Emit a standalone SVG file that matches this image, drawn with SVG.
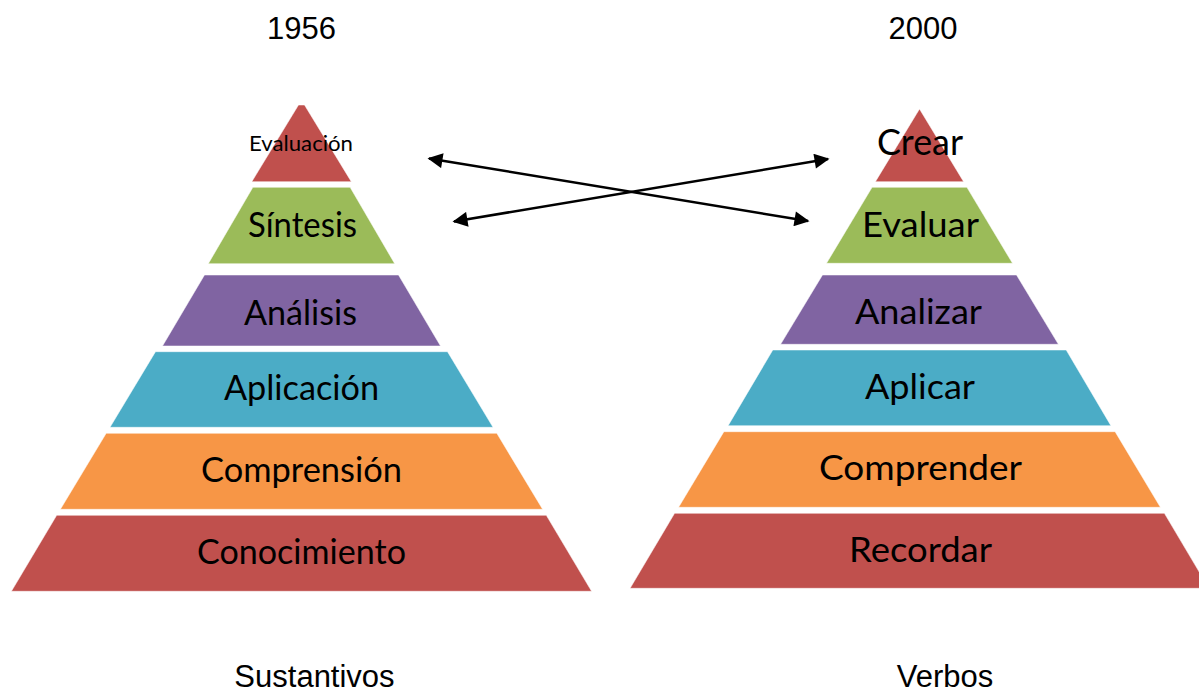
<svg xmlns="http://www.w3.org/2000/svg" width="1199" height="692" viewBox="0 0 1199 692">
<style>
.red{fill:#C0504D}.green{fill:#9BBB59}.purple{fill:#8064A2}.blue{fill:#4BACC6}.orange{fill:#F79646}
.tier{stroke:#ffffff;stroke-opacity:0.5;stroke-width:1}
.lbl{font-family:Lato,"Liberation Sans",sans-serif;font-size:34px;fill:#000;text-anchor:middle}
.cap{font-family:"Liberation Sans",Arial,sans-serif;font-size:31px;fill:#000;text-anchor:middle}
.arr{stroke:#000;stroke-width:2.5;fill:none}
</style>
<defs>
<marker id="ah" viewBox="0 0 10 10" refX="9" refY="5" markerWidth="6.5" markerHeight="6" markerUnits="strokeWidth" orient="auto-start-reverse">
<path d="M0,0 L10,5 L0,10 Z" fill="#000"/>
</marker>
</defs>
<rect width="1199" height="692" fill="#fff"/>
<text class="cap" x="301.5" y="39">1956</text>
<text class="cap" x="923" y="39">2000</text>
<text class="cap" x="314.5" y="687">Sustantivos</text>
<text class="cap" x="945" y="687">Verbos</text>
<g id="left-pyramid">
<g id="l1"><polygon class="tier red" points="298.5,105 304.5,105 351.3,181.7 251.8,181.7"/><text class="lbl" x="301" y="151" style="font-size:22px" textLength="104" lengthAdjust="spacingAndGlyphs">Evaluación</text></g>
<g id="l2"><polygon class="tier green" points="252.9,187.3 350.1,187.3 394.7,263.7 208.3,263.7"/><text class="lbl" x="302.5" y="237" textLength="109" lengthAdjust="spacingAndGlyphs">Síntesis</text></g>
<g id="l3"><polygon class="tier purple" points="204.5,275 398.5,275 440.5,346 162.5,346"/><text class="lbl" x="300.5" y="325" textLength="113" lengthAdjust="spacingAndGlyphs">Análisis</text></g>
<g id="l4"><polygon class="tier blue" points="155.5,351.7 447.5,351.7 493,427.3 110,427.3"/><text class="lbl" x="301.5" y="399.5" textLength="155" lengthAdjust="spacingAndGlyphs">Aplicación</text></g>
<g id="l5"><polygon class="tier orange" points="106.2,433.3 496.8,433.3 542.6,509.3 60.4,509.3"/><text class="lbl" x="301.5" y="482" textLength="201" lengthAdjust="spacingAndGlyphs">Comprensión</text></g>
<g id="l6"><polygon class="tier red" points="56.7,515.3 546.3,515.3 591.6,591.3 11.4,591.3"/><text class="lbl" x="301.5" y="563.5" textLength="209" lengthAdjust="spacingAndGlyphs">Conocimiento</text></g>
</g>
<g id="right-pyramid">
<g id="r1"><polygon class="tier red" points="919.5,109 963.6,181.7 875.4,181.7"/><text class="lbl" x="920" y="155" style="font-size:37px" textLength="86" lengthAdjust="spacingAndGlyphs">Crear</text></g>
<g id="r2"><polygon class="tier green" points="872.1,187.3 966.9,187.3 1012.5,263.3 826.5,263.3"/><text class="lbl" x="920.5" y="237" textLength="117" lengthAdjust="spacingAndGlyphs">Evaluar</text></g>
<g id="r3"><polygon class="tier purple" points="822.5,275 1016.5,275 1058.4,344.3 780.6,344.3"/><text class="lbl" x="918.5" y="323.5" textLength="127" lengthAdjust="spacingAndGlyphs">Analizar</text></g>
<g id="r4"><polygon class="tier blue" points="772.8,350 1066.2,350 1110.9,425.7 728.1,425.7"/><text class="lbl" x="920" y="398.5" textLength="110" lengthAdjust="spacingAndGlyphs">Aplicar</text></g>
<g id="r5"><polygon class="tier orange" points="723.9,431.7 1115.1,431.7 1160.4,507.3 678.6,507.3"/><text class="lbl" x="920.5" y="480" textLength="203" lengthAdjust="spacingAndGlyphs">Comprender</text></g>
<g id="r6"><polygon class="tier red" points="674.6,513.3 1164.4,513.3 1208.9,588.3 630.1,588.3"/><text class="lbl" x="920.5" y="562" textLength="143" lengthAdjust="spacingAndGlyphs">Recordar</text></g>
</g>
<g id="connectors">
<line class="arr" x1="429" y1="158.5" x2="808" y2="221" marker-start="url(#ah)" marker-end="url(#ah)"/>
<line class="arr" x1="454" y1="221.5" x2="828" y2="159" marker-start="url(#ah)" marker-end="url(#ah)"/>
</g>
</svg>
